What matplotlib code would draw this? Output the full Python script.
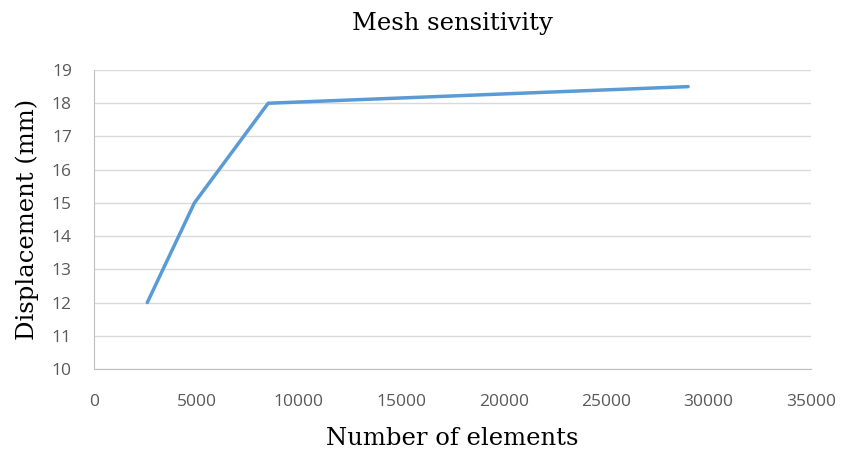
import matplotlib
matplotlib.use("Agg")
import matplotlib.pyplot as plt

# data
elements = [2600, 4900, 8500, 29000]
displacement = [12, 15, 18, 18.5]
xticks = [0, 5000, 10000, 15000, 20000, 25000, 30000, 35000]
yticks = list(range(10, 20))

fig = plt.figure(figsize=(8.44, 4.5), dpi=100)
ax = fig.add_axes([0.1114, 0.18, 0.961 - 0.1114, 0.8444 - 0.18])

ax.plot(elements, displacement, color='#5B9BD5', linewidth=2.5, solid_capstyle='round', zorder=3)

ax.set_xlim(0, 35000)
ax.set_ylim(10, 19)
ax.set_xticks(xticks)
ax.set_yticks(yticks)
ax.tick_params(length=0, labelsize=12.5, labelcolor='#595959', pad=16)
ax.tick_params(axis='x', pad=18)
for lab in ax.get_xticklabels() + ax.get_yticklabels():
    lab.set_family('Open Sans')

ax.grid(axis='y', color='#D9D9D9', linewidth=1)
ax.set_axisbelow(True)
for s in ['top', 'right']:
    ax.spines[s].set_visible(False)
ax.spines['left'].set_color('#BFBFBF')
ax.spines['bottom'].set_color('#BFBFBF')

ax.set_title('Mesh sensitivity', family='DejaVu Serif', fontsize=17.5, pad=29)
ax.set_xlabel('Number of elements', family='DejaVu Serif', fontsize=17.5, labelpad=12)
ax.set_ylabel('Displacement (mm)', family='DejaVu Serif', fontsize=17.5, labelpad=9)

fig.savefig('out.png', dpi=100)
